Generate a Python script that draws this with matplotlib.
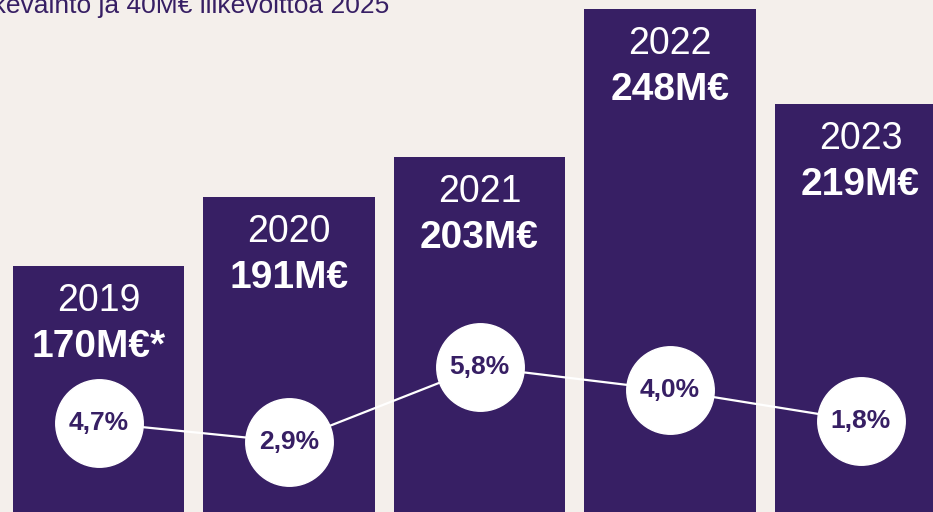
#!/usr/bin/env python

import matplotlib
matplotlib.use('Agg')
import matplotlib.pyplot as plt

plt.rcParams['font.family'] = ['Liberation Sans', 'DejaVu Sans']

# ------------------------------------------------------------------------------
# data
years = ['2019', '2020', '2021', '2022', '2023']
revenue = [170, 191, 203, 248, 219]
revenue_labels = ['170M€*', '191M€', '203M€', '248M€', '219M€']
margin_labels = ['4,7%', '2,9%', '5,8%', '4,0%', '1,8%']
# height of the margin bubbles, in revenue units (not scaled to the margin)
margin_level = [122.4, 116.6, 139.3, 132.3, 123.0]
header = 'liikevaihto ja 40M€ liikevoittoa 2025'

bg_color = '#F4EFEB'
bar_color = '#371F64'


# ------------------------------------------------------------------------------
def plot_revenue_bars(out_file_name):
    fig = plt.figure(figsize=(9.33, 5.12), dpi=100, facecolor=bg_color)
    ax = fig.add_axes([0, 0, 1, 1])
    ax.set_facecolor(bg_color)

    x = list(range(len(years)))
    ax.bar(x, revenue, width=0.9, color=bar_color, zorder=1)

    # year and revenue inside the top of each bar
    for i in x:
        ax.annotate(years[i], xy=(i, revenue[i]), xytext=(0, -35),
                    textcoords='offset pixels', ha='center', va='center',
                    color='white', fontsize=27, zorder=3)
        ax.annotate(revenue_labels[i], xy=(i, revenue[i]), xytext=(0, -81),
                    textcoords='offset pixels', ha='center', va='center',
                    color='white', fontsize=28, fontweight='bold', zorder=3)

    # margin line with white bubbles
    ax.plot(x, margin_level, color='white', linewidth=1.6, marker='o',
            markersize=63, markerfacecolor='white', markeredgecolor='white',
            zorder=2)
    for i in x:
        ax.text(i, margin_level[i], margin_labels[i], ha='center',
                va='center', color=bar_color, fontsize=19,
                fontweight='bold', zorder=4)

    ax.set_xlim(-0.517, 4.38)
    ax.set_ylim(95.3, 250.7)
    ax.axis('off')

    # header, cut off by the top left edge as in the source slide
    fig.text(389 / 933., 1 - 13.5 / 512., header, ha='right', va='baseline',
             color=bar_color, fontsize=19)

    fig.savefig(out_file_name, dpi=100, facecolor=bg_color)


# ==============================================================================
if __name__ == "__main__":
    plot_revenue_bars('out.png')
